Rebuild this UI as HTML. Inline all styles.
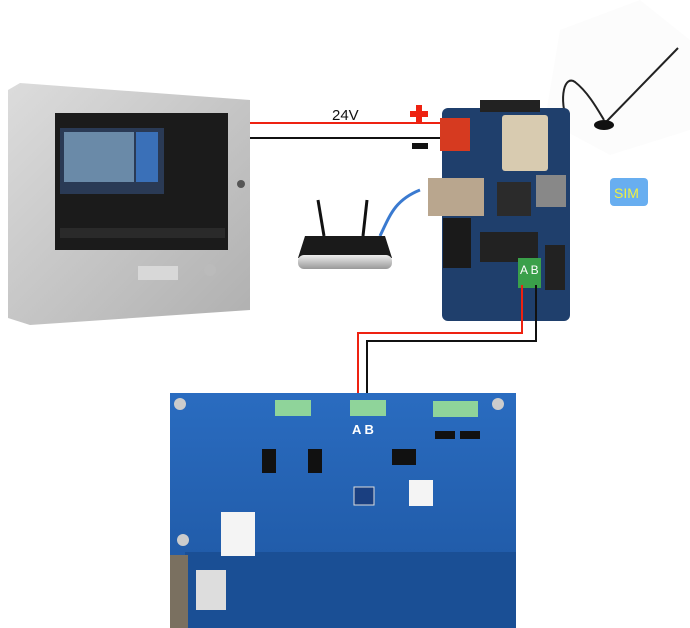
<!DOCTYPE html>
<html><head><meta charset="utf-8"><style>
html,body{margin:0;padding:0;background:#fff;width:690px;height:628px;overflow:hidden}
svg{display:block;font-family:"Liberation Sans",sans-serif}
</style></head><body>
<svg width="690" height="628" viewBox="0 0 690 628" xmlns="http://www.w3.org/2000/svg">
<defs>
<linearGradient id="pg" x1="0" y1="0" x2="1" y2="1"><stop offset="0" stop-color="#dcdcdc"/><stop offset="1" stop-color="#b0b0b0"/></linearGradient>
<linearGradient id="bb" x1="0" y1="0" x2="0" y2="1"><stop offset="0" stop-color="#2a6cc0"/><stop offset="1" stop-color="#1d55a0"/></linearGradient>
<linearGradient id="rt" x1="0" y1="0" x2="0" y2="1"><stop offset="0" stop-color="#eee"/><stop offset="1" stop-color="#999"/></linearGradient>
</defs>
<!-- antenna card -->
<polygon points="560,30 640,0 690,40 690,130 610,155 545,120" fill="#fcfcfc"/>
<line x1="606" y1="122" x2="678" y2="48" stroke="#222" stroke-width="2"/>
<ellipse cx="604" cy="125" rx="10" ry="5" fill="#111"/>
<path d="M568,125 C558,95 565,75 575,82 C588,92 598,110 604,120" fill="none" stroke="#222" stroke-width="2"/>
<!-- panel -->
<polygon points="8,90 20,83 250,100 250,310 30,325 8,318" fill="url(#pg)"/>
<rect x="55" y="113" width="173" height="137" fill="#1b1b1b"/>
<rect x="60" y="128" width="104" height="66" fill="#2a3a55"/>
<rect x="64" y="132" width="70" height="50" fill="#6a8aa8"/>
<rect x="136" y="132" width="22" height="50" fill="#3a70b8"/>
<rect x="60" y="228" width="165" height="10" fill="#2a2a2a"/>
<rect x="138" y="266" width="40" height="14" fill="#d8d8d8"/>
<circle cx="210" cy="270" r="6" fill="#bbb"/>
<circle cx="241" cy="184" r="4" fill="#555"/>
<!-- wires top -->
<line x1="250" y1="123" x2="445" y2="123" stroke="#e21" stroke-width="2"/>
<line x1="250" y1="138" x2="445" y2="138" stroke="#111" stroke-width="2"/>
<text x="332" y="120" font-size="15" fill="#111">24V</text>
<rect x="410" y="111" width="18" height="6" fill="#e21"/><rect x="416" y="105" width="6" height="18" fill="#e21"/>
<rect x="412" y="143" width="16" height="6" fill="#111"/>
<!-- gateway board -->
<rect x="442" y="108" width="128" height="213" rx="6" fill="#1f3f6c"/>
<rect x="480" y="100" width="60" height="12" fill="#222"/>
<rect x="440" y="118" width="30" height="33" fill="#d63a20"/>
<rect x="502" y="115" width="46" height="56" rx="3" fill="#d8cbb0"/>
<rect x="428" y="178" width="56" height="38" fill="#b9a68e"/>
<rect x="497" y="182" width="34" height="34" fill="#2b2b2b"/>
<rect x="536" y="175" width="30" height="32" fill="#888"/>
<rect x="443" y="218" width="28" height="50" fill="#1a1a1a"/>
<rect x="480" y="232" width="58" height="30" fill="#222"/>
<rect x="545" y="245" width="20" height="45" fill="#222"/>
<rect x="518" y="258" width="23" height="30" fill="#3aa04a"/>
<text x="520" y="274" font-size="12" fill="#fff">A B</text>
<!-- router -->
<line x1="318" y1="200" x2="324" y2="236" stroke="#111" stroke-width="3"/>
<line x1="367" y1="200" x2="363" y2="236" stroke="#111" stroke-width="3"/>
<path d="M380,236 C390,215 395,200 420,190" fill="none" stroke="#3a7ad0" stroke-width="3"/>
<polygon points="305,236 385,236 392,258 298,258" fill="#1a1a1a"/>
<rect x="298" y="255" width="94" height="14" rx="6" fill="url(#rt)"/>
<!-- SIM -->
<rect x="610" y="178" width="38" height="28" rx="4" fill="#68aef0"/>
<text x="614" y="198" font-size="14" fill="#f0f040">SIM</text>
<!-- wires down -->
<polyline points="522,285 522,333 358,333 358,402" fill="none" stroke="#e21" stroke-width="2"/>
<polyline points="536,285 536,341 367,341 367,402" fill="none" stroke="#111" stroke-width="2"/>
<!-- bottom board -->
<rect x="170" y="393" width="346" height="235" fill="url(#bb)"/>
<rect x="185" y="552" width="331" height="76" fill="#1a4f95"/>
<rect x="170" y="555" width="18" height="73" fill="#7a7060"/>
<rect x="275" y="400" width="36" height="16" fill="#8fd49a"/>
<rect x="350" y="400" width="36" height="16" fill="#8fd49a"/>
<rect x="433" y="401" width="45" height="16" fill="#8fd49a"/>
<text x="352" y="434" font-size="13" font-weight="bold" fill="#fff">A B</text>
<rect x="262" y="449" width="14" height="24" fill="#111"/>
<rect x="308" y="449" width="14" height="24" fill="#111"/>
<rect x="392" y="449" width="24" height="16" fill="#111"/>
<rect x="354" y="487" width="20" height="18" fill="#1a3f80" stroke="#ddd"/>
<rect x="409" y="480" width="24" height="26" fill="#f4f4f4"/>
<rect x="221" y="512" width="34" height="44" fill="#f4f4f4"/>
<rect x="196" y="570" width="30" height="40" fill="#ddd"/>
<rect x="435" y="431" width="20" height="8" fill="#111"/><rect x="460" y="431" width="20" height="8" fill="#111"/>
<circle cx="180" cy="404" r="6" fill="#ccc"/><circle cx="498" cy="404" r="6" fill="#ccc"/><circle cx="183" cy="540" r="6" fill="#ccc"/>
</svg>
</body></html>
